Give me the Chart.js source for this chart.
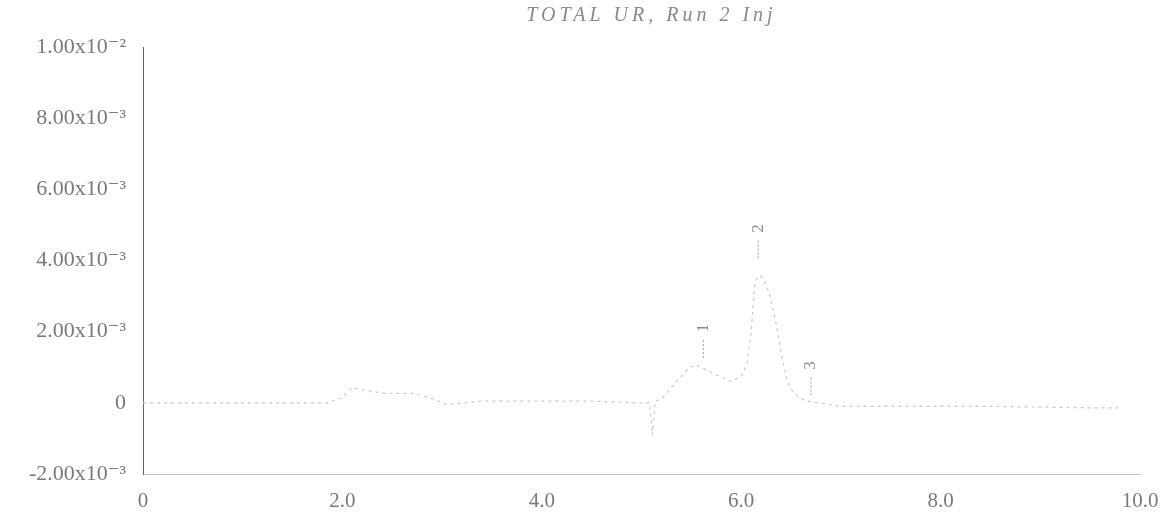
<!DOCTYPE html>
<html lang="en">
<head>
  <meta charset="UTF-8" />
  <title>TOTAL UR, Run 2 Inj</title>
  <script src="https://cdn.jsdelivr.net/npm/chart.js"></script>
  <style>
    body { margin: 0; background: #fff; }
    .wrap { width: 1175px; height: 518px; position: relative; }
  </style>
</head>
<body>
<div class="wrap"><canvas id="chrom"></canvas></div>

<script>
  // retention time (min) and detector signal (x10^-3)
  const timeMin = [0, 0.5, 1.0, 1.5, 1.85, 2.0, 2.1, 2.23, 2.45, 2.7, 2.8, 2.9, 3.05, 3.4, 3.9, 4.5,
    4.95, 5.08, 5.11, 5.14, 5.2, 5.35, 5.48, 5.55, 5.7, 5.9, 6.0, 6.06, 6.08, 6.10, 6.12, 6.14,
    6.19, 6.23, 6.29, 6.35, 6.41, 6.46, 6.49, 6.58, 6.66, 7.0, 7.5, 8.0, 8.5, 9.0, 9.5, 9.78];
  const signal = [0, 0, 0, 0, 0, 0.15, 0.43, 0.35, 0.26, 0.27, 0.2, 0.12, -0.05, 0.05, 0.05, 0.05,
    0, 0, -0.9, 0.05, 0.1, 0.6, 0.98, 1.07, 0.85, 0.6, 0.75, 1.1, 1.6, 1.94, 2.78, 3.43,
    3.58, 3.47, 2.99, 2.23, 1.25, 0.66, 0.41, 0.15, 0.05, -0.1, -0.1, -0.1, -0.1, -0.12, -0.14, -0.14];

  // peak numbers and where their labels sit (x10^-3)
  const peakNames = ['1', '2', '3'];
  const peakTime = [5.62, 6.17, 6.70];
  const peakLabelY = [2.1, 4.9, 1.05];

  const xTicks = [0, 2, 4, 6, 8, 10];
  const xTickLabels = ['0', '2.0', '4.0', '6.0', '8.0', '10.0'];
  const yTicks = [-0.002, 0, 0.002, 0.004, 0.006, 0.008, 0.01];
  const yTickLabels = ['-2.00x10\u207B\u00B3', '0', '2.00x10\u207B\u00B3', '4.00x10\u207B\u00B3',
    '6.00x10\u207B\u00B3', '8.00x10\u207B\u00B3', '1.00x10\u207B\u00B2'];

  const titleText = 'TOTAL UR, Run 2 Inj';

  const points = timeMin.map((t, i) => ({ x: t, y: signal[i] * 1e-3 }));

  // title and peak numbers, drawn after the chart
  const extras = {
    id: 'extras',
    afterDraw(chart) {
      const ctx = chart.ctx;
      const xs = chart.scales.x, ys = chart.scales.y;
      ctx.save();
      ctx.fillStyle = '#8a8a8a';
      ctx.font = 'italic 20px "Liberation Serif", "DejaVu Serif", serif';
      ctx.letterSpacing = '4px';
      ctx.textAlign = 'center';
      ctx.textBaseline = 'middle';
      ctx.fillText(titleText, xs.getPixelForValue(5.1), 16);
      ctx.letterSpacing = '0px';

      ctx.font = '17px "Liberation Serif", serif';
      ctx.strokeStyle = '#999';
      ctx.lineWidth = 1;
      ctx.setLineDash([2, 2]);
      peakNames.forEach((name, i) => {
        const px = xs.getPixelForValue(peakTime[i]);
        const py = ys.getPixelForValue(peakLabelY[i] * 1e-3);
        ctx.beginPath();
        ctx.moveTo(px, py + 12);
        ctx.lineTo(px, py + 32);
        ctx.stroke();
        ctx.save();
        ctx.translate(px, py);
        ctx.rotate(-Math.PI / 2);
        ctx.fillText(name, 0, 0);
        ctx.restore();
      });
      ctx.restore();
    }
  };

  new Chart(document.getElementById('chrom'), {
    type: 'scatter',
    data: {
      datasets: [{
        data: points,
        showLine: true,
        borderColor: '#c8c8c8',
        borderWidth: 1.2,
        borderDash: [3, 4],
        pointRadius: 0,
        tension: 0
      }]
    },
    options: {
      responsive: true,
      maintainAspectRatio: false,
      animation: false,
      layout: { padding: { top: 47, right: 35, bottom: 0, left: 0 } },
      plugins: {
        legend: { display: false },
        tooltip: { enabled: false }
      },
      scales: {
        x: {
          type: 'linear',
          min: 0,
          max: 10,
          afterFit: s => { s.height = 44; },
          afterBuildTicks: s => { s.ticks = xTicks.map(v => ({ value: v })); },
          grid: { display: false },
          border: { display: true, color: '#c0c0c0', width: 1, dash: [3, 7] },
          ticks: {
            padding: 7,
            maxRotation: 0,
            color: '#7a7a7a',
            font: { family: '"Liberation Serif", "DejaVu Serif", serif', size: 21 },
            callback: v => xTickLabels[xTicks.indexOf(v)]
          }
        },
        y: {
          min: -0.002,
          max: 0.01,
          afterFit: s => { s.width = 143; },
          afterBuildTicks: s => { s.ticks = yTicks.map(v => ({ value: v })); },
          grid: { display: false },
          border: { display: true, color: '#666', width: 1, dash: [2, 3] },
          ticks: {
            padding: 9,
            color: '#7a7a7a',
            font: { family: '"Liberation Serif", "DejaVu Serif", serif', size: 22 },
            callback: v => {
              const i = yTicks.findIndex(t => Math.abs(t - v) < 1e-9);
              return i >= 0 ? yTickLabels[i] : '';
            }
          }
        }
      }
    },
    plugins: [extras]
  });
</script>
</body>
</html>
